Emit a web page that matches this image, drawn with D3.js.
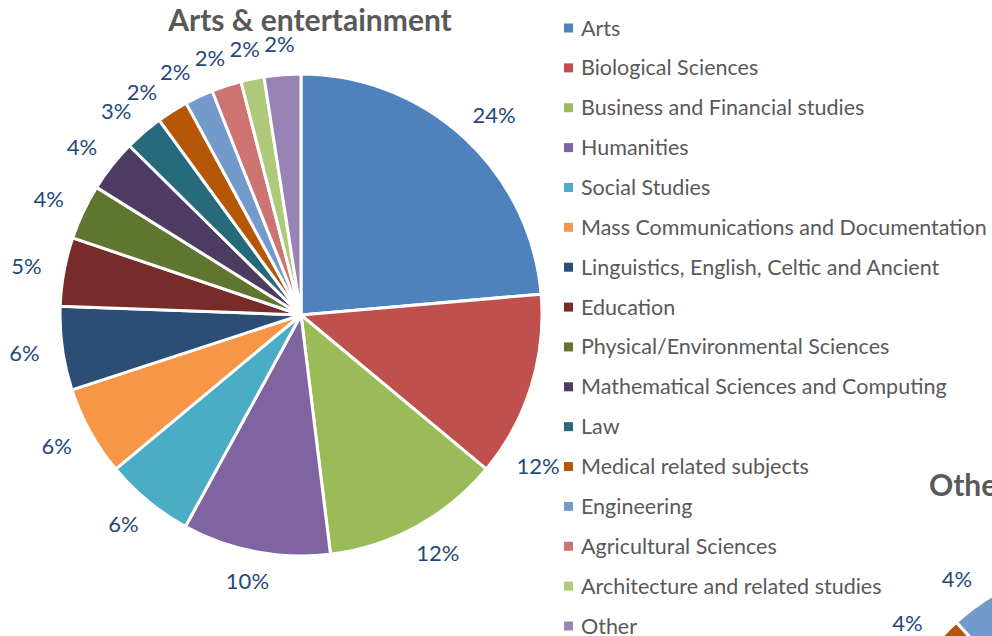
<!DOCTYPE html>
<html>
<head>
<meta charset="utf-8">
<script src="https://cdn.jsdelivr.net/npm/d3@7"></script>
<style>
  html, body { margin: 0; padding: 0; background: #fff; }
  svg { display: block; }
  text { font-family: Lato, "Open Sans", sans-serif; }
</style>
</head>
<body>
<svg id="chart" width="992" height="636"></svg>
<script>
// ---- data ----
const categories = [
  "Arts", "Biological Sciences", "Business and Financial studies", "Humanities",
  "Social Studies", "Mass Communications and Documentation",
  "Linguistics, English, Celtic and Ancient", "Education",
  "Physical/Environmental Sciences", "Mathematical Sciences and Computing",
  "Law", "Medical related subjects", "Engineering", "Agricultural Sciences",
  "Architecture and related studies", "Other"
];
const artsValues = [23.6, 12.4, 12.0, 9.9, 6.0, 6.0, 5.6, 4.6, 3.7, 3.5, 2.6, 2.1, 1.9, 2.0, 1.55, 2.45];
// second chart (mostly outside the picture; only its tail is visible)
const otherValues = [10, 12, 14, 8, 9, 5, 6, 8, 5, 4, 3.3, 4, 4, 3, 2, 2.7];
const colors = [
  "#4F81BD", "#C0504D", "#9BBB59", "#8064A2", "#4BACC6", "#F79646",
  "#2C4D75", "#772C2A", "#5F7530", "#4D3B62", "#276A7C", "#B65708",
  "#729ACA", "#CD7371", "#AFC97A", "#9983B5"
];
const titles = ["Arts & entertainment", "Other"];

// ---- layout ----
const svg = d3.select("#chart");
const color = d3.scaleOrdinal().domain(categories).range(colors);
const pctFmt = v => Math.round(v) + "%";

function overlaps(a, b, m) {
  return !(a.x + a.w / 2 + m <= b.x - b.w / 2 || b.x + b.w / 2 + m <= a.x - a.w / 2 ||
           a.y + a.h / 2 + m <= b.y - b.h / 2 || b.y + b.h / 2 + m <= a.y - a.h / 2);
}

function drawPie(values, cx, cy, R, plotRight) {
  const total = d3.sum(values);
  const data = categories.map((c, i) => ({ cat: c, value: values[i] }));
  const pie = d3.pie().sort(null).value(d => d.value);
  const arcs = pie(data);
  const arc = d3.arc().innerRadius(0).outerRadius(R);
  const g = svg.append("g").attr("transform", `translate(${cx},${cy})`);
  g.selectAll("path").data(arcs).join("path")
    .attr("d", arc)
    .attr("fill", d => color(d.data.cat))
    .attr("stroke", "#fff")
    .attr("stroke-width", 3)
    .attr("stroke-linejoin", "round");

  const pad = 23;
  const texts = g.selectAll("text.lbl").data(arcs).join("text")
    .attr("class", "lbl")
    .attr("text-anchor", "middle")
    .attr("dy", "0.35em")
    .attr("fill", "#1F497D")
    .attr("font-size", "22px")
    .text(d => pctFmt(d.data.value / total * 100));

  const boxes = [];
  const nodes = texts.nodes();
  function place(th, w, h) {
    const s = Math.sin(th), c = Math.cos(th);
    return { x: (R + pad) * s + s * w / 2, y: -(R + pad) * c - c * h / 2, w, h };
  }
  // place from the last slice backwards, nudging counter-clockwise on collision
  for (let i = nodes.length - 1; i >= 0; i--) {
    const node = nodes[i];
    const d = arcs[i];
    const bb = node.getBBox();
    const w = bb.width, h = bb.height * 0.55;
    let th = (d.startAngle + d.endAngle) / 2;
    let b = place(th, w, h);
    let guard = 0;
    while (cx + b.x + w / 2 > plotRight && guard++ < 200) {
      th += Math.PI / 360;
      b = place(th, w, h);
    }
    guard = 0;
    while (boxes.some(o => overlaps(b, o, 4)) && guard++ < 200) {
      th -= Math.PI / 720;
      b = place(th, w, h);
    }
    boxes.push(b);
    d3.select(node).attr("x", b.x).attr("y", b.y);
  }
}

drawPie(artsValues, 301, 315, 241, 560);
drawPie(otherValues, 1110, 792, 229, Infinity);

// titles
svg.append("text")
  .attr("x", 310).attr("y", 31)
  .attr("text-anchor", "middle")
  .attr("font-size", "30px").attr("font-weight", "bold")
  .attr("fill", "#595959")
  .text(titles[0]);
svg.append("text")
  .attr("x", 929).attr("y", 496)
  .attr("text-anchor", "start")
  .attr("font-size", "30px").attr("font-weight", "bold")
  .attr("fill", "#595959")
  .text(titles[1]);

// legend
const legendY = d3.scalePoint().domain(categories).range([28, 626]);
const items = svg.append("g").selectAll("g").data(categories).join("g")
  .attr("transform", d => `translate(564,${legendY(d)})`);
items.append("rect")
  .attr("x", 0).attr("y", -4.5).attr("width", 9).attr("height", 9)
  .attr("fill", d => color(d));
items.append("text")
  .attr("x", 17).attr("dy", "0.35em")
  .attr("font-size", "21.5px")
  .attr("fill", "#595959")
  .text(d => d);
</script>
</body>
</html>
